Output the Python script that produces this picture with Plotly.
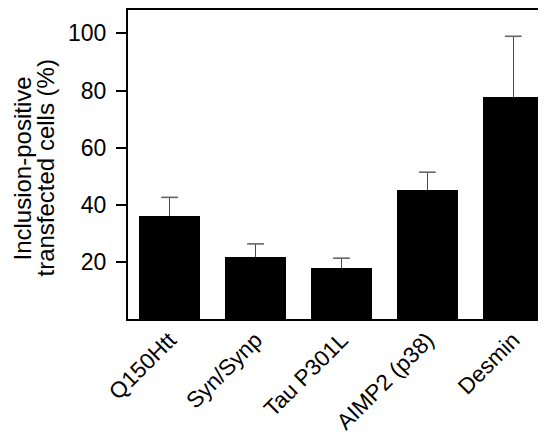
import plotly.graph_objects as go

categories = ["Q150Htt", "Syn/Synp", "Tau P301L", "AIMP2 (p38)", "Desmin"]
values = [36.2, 21.7, 18.0, 45.3, 77.9]
errors_up = [6.4, 4.6, 3.3, 6.1, 21.1]
y_ticks = [20, 40, 60, 80, 100]
y_title_lines = ["Inclusion-positive", "transfected cells (%)"]

FONT = "Liberation Sans, Arial, sans-serif"

# page body has an 8px default margin; compensate so the plot lands where the reference has it
OFF = 8
W, H = 546 - OFF, 439 - OFF
L, R, T = 128 - OFF, 0, 10 - OFF
B = H - (319 - OFF)
pw = W - L - R

xs = list(range(len(categories)))
tops = [v + e for v, e in zip(values, errors_up)]

fig = go.Figure()
fig.add_trace(go.Bar(
    x=xs,
    y=values,
    width=0.716,
    marker=dict(color="black", line=dict(width=0)),
    error_y=dict(type="data", symmetric=False, array=errors_up,
                 arrayminus=[0] * len(values),
                 color="#4a4a4a", thickness=1.4, width=0),
))
# caps only at the top of the (upper-only) error bars
fig.add_trace(go.Scatter(
    x=xs, y=tops, mode="markers",
    marker=dict(symbol="line-ew", size=12,
                line=dict(color="#666666", width=1.6)),
    hoverinfo="skip",
))

fig.update_layout(
    width=W, height=H,
    margin=dict(l=L, r=R, t=T, b=B, pad=0, autoexpand=False),
    paper_bgcolor="white", plot_bgcolor="white",
    showlegend=False,
    font=dict(family=FONT, color="black", size=22),
    bargap=0,
)
fig.update_xaxes(
    range=[-0.485, 4.381],
    tickvals=xs,
    ticktext=categories,
    tickangle=-45,
    tickfont=dict(size=22.5, family=FONT, color="black"),
    ticklabelstandoff=-3,
    showline=True, linecolor="black", linewidth=2, mirror=True,
    ticks="", showgrid=False, zeroline=False,
)
fig.update_yaxes(
    range=[0, 108.2],
    tickvals=y_ticks,
    ticktext=[str(v) for v in y_ticks],
    tickfont=dict(size=23, family=FONT, color="black"),
    ticks="outside", ticklen=10, tickwidth=2, tickcolor="black",
    ticklabelstandoff=5,
    showline=True, linecolor="black", linewidth=2, mirror=False,
    showgrid=False, zeroline=False,
)

line_x_px = [23, 46]
for txt, xp in zip(y_title_lines, line_x_px):
    fig.add_annotation(
        text=txt, textangle=-90, showarrow=False,
        xref="paper", yref="paper",
        x=(xp - 128) / pw, y=0.487,
        xanchor="center", yanchor="middle",
        font=dict(size=24, family=FONT, color="black"),
    )

fig.write_html("out.html")
